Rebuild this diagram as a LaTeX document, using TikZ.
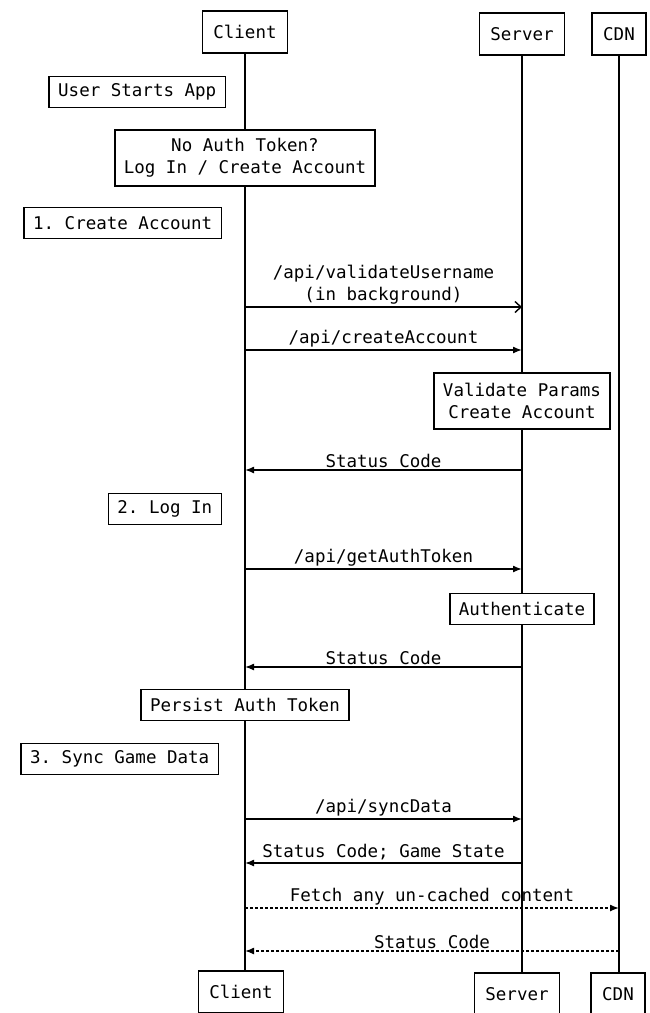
\documentclass[tikz,border=0pt]{standalone}
\usepackage{fontspec}
\setmonofont{DejaVu Sans Mono}
\usetikzlibrary{arrows.meta}

\begin{document}
\begin{tikzpicture}[x=1pt,y=-1pt,
  font=\ttfamily\fontsize{17.5}{22}\selectfont,
  actor/.style={rectangle,draw,line width=1.5pt,minimum height=42pt,inner xsep=11pt,fill=white},
  box/.style={rectangle,draw,line width=1.5pt,minimum height=31pt,inner xsep=9pt,fill=white,align=center},
  tall/.style={box,minimum height=56pt},
  life/.style={line width=1.4pt},
  msg/.style={line width=1.4pt,-{Latex[length=9pt,width=7pt]}},
  bgmsg/.style={line width=1.4pt,-{Straight Barb[length=6pt,width=11pt,line width=1.4pt]}},
  back/.style={msg,dash pattern=on 3pt off 2pt},
  lbl/.style={above,inner sep=2pt,align=center}]
    \useasboundingbox (0,0) rectangle (649,1013);
    % Actors
    \node[actor] (client) at (245,32) {Client};
    \node[actor] (server) at (522,34) {Server};
    \node[actor] (cdn) at (619,34) {CDN};
    \node[actor] (clientB) at (241,992) {Client};
    \node[actor] (serverB) at (517,994) {Server};
    \node[actor] (cdnB) at (618,994) {CDN};
    % Lifelines
    \draw[life] (client) -- (client |- clientB.north);
    \draw[life] (server) -- (server |- serverB.north);
    \draw[life] (cdn) -- (cdn |- cdnB.north);
    % Steps on the client side
    \node[box,anchor=east] (start) at (226,92) {User Starts App};
    \node[tall] (noauth) at (245,158) {No Auth Token?\\Log In / Create Account};
    \node[box,anchor=east] (create) at (222,223) {1. Create Account};
    \node[box,anchor=east] (login) at (222,509) {2. Log In};
    \node[box] (persist) at (245,705) {Persist Auth Token};
    \node[box,anchor=east] (sync) at (219,759) {3. Sync Game Data};
    % Steps on the server side
    \node[tall] (validate) at (522,401) {Validate Params\\Create Account};
    \node[box] (authn) at (522,609) {Authenticate};
    % Messages
    \coordinate (c1) at (245,307); \coordinate (s1) at (522,307);
    \coordinate (c2) at (245,350); \coordinate (s2) at (522,350);
    \coordinate (c3) at (245,470); \coordinate (s3) at (522,470);
    \coordinate (c4) at (245,569); \coordinate (s4) at (522,569);
    \coordinate (c5) at (245,667); \coordinate (s5) at (522,667);
    \coordinate (c6) at (245,819); \coordinate (s6) at (522,819);
    \coordinate (c7) at (245,863); \coordinate (s7) at (522,863);
    \coordinate (c8) at (245,908); \coordinate (d8) at (619,908);
    \coordinate (c9) at (245,951); \coordinate (d9) at (619,951);
    \draw[bgmsg] (c1) -- node[lbl] {/api/validateUsername\\(in background)} (s1);
    \draw[msg] (c2) -- node[lbl] {/api/createAccount} (s2);
    \draw[msg] (s3) -- node[lbl] {Status Code} (c3);
    \draw[msg] (c4) -- node[lbl] {/api/getAuthToken} (s4);
    \draw[msg] (s5) -- node[lbl] {Status Code} (c5);
    \draw[msg] (c6) -- node[lbl] {/api/syncData} (s6);
    \draw[msg] (s7) -- node[lbl] {Status Code; Game State} (c7);
    % CDN
    \draw[back] (c8) -- node[lbl] {Fetch any un-cached content} (d8);
    \draw[back] (d9) -- node[lbl] {Status Code} (c9);
\end{tikzpicture}
\end{document}
